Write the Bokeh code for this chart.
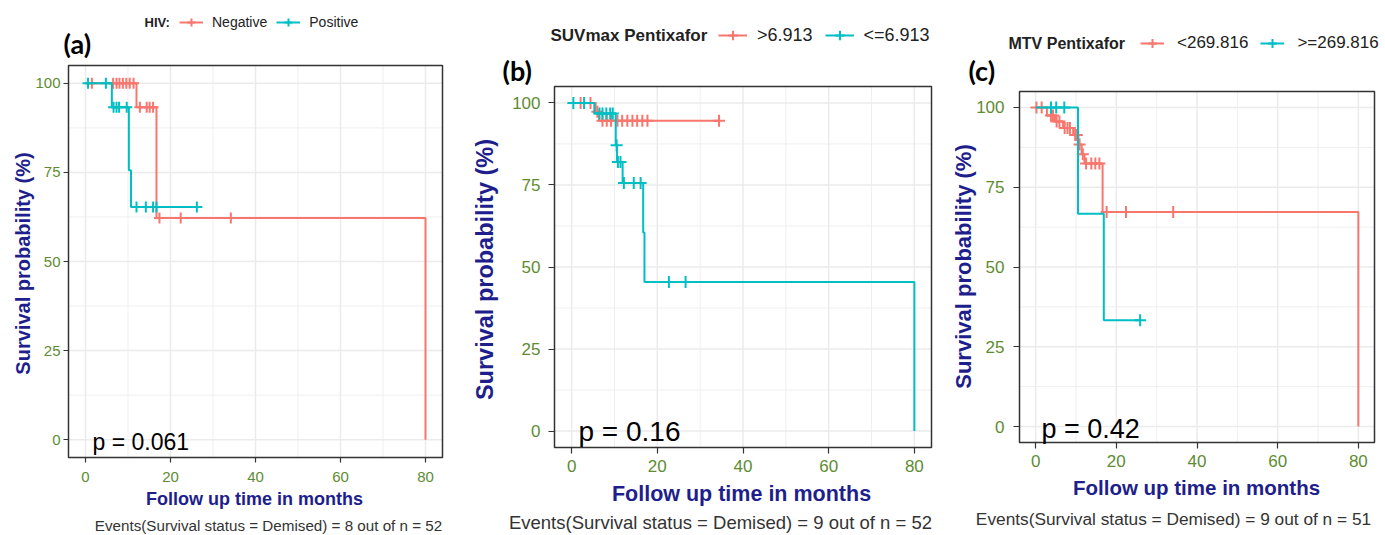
import math
from bokeh.plotting import figure
from bokeh.models import Label, Legend, LegendItem, FixedTicker, Range1d
from bokeh.layouts import row, column
from bokeh.embed import file_html
from bokeh.resources import INLINE

# ---------------- data (months, survival %) ----------------
# Panel (a) HIV
A_neg_times = [0, 12.0, 16.7, 80.0]
A_neg_surv = [100, 93.3, 62.2, 0]
A_neg_end = 80.0
A_neg_censor = [1.5, 6.5, 7.3, 8.0, 8.8, 9.6, 10.4, 11.3, 12.8, 14.4, 15.1, 15.9, 17.4, 22.4, 34.2]
A_pos_times = [0, 6.2, 10.2, 10.7]
A_pos_surv = [100, 93.3, 75.6, 65.3]
A_pos_end = 26.2
A_pos_censor = [0.6, 4.8, 6.6, 7.3, 7.9, 9.7, 12.0, 14.2, 15.9, 16.7, 26.2]

# Panel (b) SUVmax Pentixafor
B_hi_times = [0, 5.6, 6.4]
B_hi_surv = [100, 97.3, 94.6]
B_hi_end = 34.4
B_hi_censor = [2.1, 4.4, 6.0, 7.2, 8.2, 9.2, 10.7, 11.8, 13.0, 14.2, 15.3, 16.5, 17.7, 34.4]
B_lo_times = [0, 5.3, 10.3, 10.6, 11.9, 16.7, 17.0, 80.0]
B_lo_surv = [100, 96.8, 87.1, 82.0, 75.6, 60.5, 45.4, 0]
B_lo_end = 80.0
B_lo_censor = [0.4, 2.9, 6.5, 7.2, 8.1, 9.0, 9.6, 10.5, 10.8, 11.4, 12.2, 14.5, 16.1, 22.7, 26.6]

# Panel (c) MTV Pentixafor
C_lo_times = [0, 2.8, 4.8, 6.8, 9.3, 10.6, 11.4, 12.1, 16.6, 80.0]
C_lo_surv = [100, 97.5, 95.6, 93.6, 91.4, 88.4, 85.3, 82.4, 67.2, 0]
C_lo_end = 80.0
C_lo_censor = [0.2, 1.5, 3.8, 4.3, 5.2, 5.9, 7.2, 7.9, 8.5, 9.8, 10.2, 10.9, 11.7,
               12.5, 13.8, 14.8, 15.8, 17.6, 22.4, 34.1]
C_hi_times = [0, 10.5, 16.9]
C_hi_surv = [100, 66.7, 33.3]
C_hi_end = 25.9
C_hi_censor = [3.8, 5.1, 7.1, 25.9]

x_ticks = [0, 20, 40, 60, 80]
x_minor = [10, 30, 50, 70]
y_ticks = [0, 25, 50, 75, 100]
y_minor = [12.5, 37.5, 62.5, 87.5]

RED = "#F8766D"
TEAL = "#00BFC4"
NAVY = "#1E1E8C"
TICKCOL = "#5E8C31"
FONT = "Liberation Sans"
XR = (-4, 84)      # panel limits (ggplot 5% expansion of 0..80)
YR = (-5, 105)     # panel limits (ggplot 5% expansion of 0..100)


def surv_at(times, surv, t):
    v = surv[0]
    for tt, ss in zip(times, surv):
        if tt <= t:
            v = ss
    return v


def make_panel(cfg):
    cx0, W, H = cfg["canvas_x"], cfg["W"], cfg["H"]
    fx0, fy0, fx1, fy1 = cfg["frame"]          # panel box in page pixels
    ppx = (fx1 - fx0) / (XR[1] - XR[0])
    ppy = (fy1 - fy0) / (YR[1] - YR[0])
    xs0 = XR[0] - (fx0 - cx0) / ppx
    xs1 = XR[1] + (cx0 + W - fx1) / ppx
    ys0 = YR[0] - (H - fy1) / ppy
    ys1 = YR[1] + fy0 / ppy
    p = figure(width=W, height=H, x_range=Range1d(xs0, xs1), y_range=Range1d(ys0, ys1),
               output_backend="svg", toolbar_location=None, title_location=None,
               min_border=0)
    p.background_fill_color = "white"
    p.border_fill_color = "white"
    p.outline_line_color = None

    def tx(px):
        return xs0 + (px - cx0) / ppx

    def ty(py):
        return ys0 + (H - py) / ppy

    # axes pinned to the panel edges
    p.xaxis.fixed_location = YR[0]
    p.yaxis.fixed_location = XR[0]
    p.xaxis.ticker = FixedTicker(ticks=x_ticks, minor_ticks=x_minor)
    p.yaxis.ticker = FixedTicker(ticks=y_ticks, minor_ticks=y_minor)
    for ax in (p.xaxis, p.yaxis):
        ax.axis_line_color = None
        ax.major_tick_line_color = "#333333"
        ax.major_tick_line_width = 1.2
        ax.major_tick_in = 0
        ax.major_tick_out = cfg["tick"]
        ax.minor_tick_line_color = None
        ax.major_label_text_color = TICKCOL
        ax.major_label_text_font = FONT
        ax.major_label_text_font_size = cfg["tickfs"]
    p.xaxis.major_label_standoff = cfg["xstand"]
    p.yaxis.major_label_standoff = cfg["ystand"]

    # grid lines limited to the panel box
    p.xgrid.visible = False
    p.ygrid.visible = False
    p.segment(x0=x_minor, y0=[YR[0]] * len(x_minor), x1=x_minor, y1=[YR[1]] * len(x_minor),
              line_color="#EFEFEF", line_width=1.0, level="underlay")
    p.segment(x0=[XR[0]] * len(y_minor), y0=y_minor, x1=[XR[1]] * len(y_minor), y1=y_minor,
              line_color="#EFEFEF", line_width=1.0, level="underlay")
    p.segment(x0=x_ticks, y0=[YR[0]] * len(x_ticks), x1=x_ticks, y1=[YR[1]] * len(x_ticks),
              line_color="#EBEBEB", line_width=1.5, level="underlay")
    p.segment(x0=[XR[0]] * len(y_ticks), y0=y_ticks, x1=[XR[1]] * len(y_ticks), y1=y_ticks,
              line_color="#EBEBEB", line_width=1.5, level="underlay")

    items = []
    for (times, surv, end, cens, col, lab) in cfg["curves"]:
        xs = list(times) + ([end] if end > times[-1] else [])
        ys = list(surv) + ([surv[-1]] if end > times[-1] else [])
        lr = p.step(xs, ys, mode="after", line_color=col, line_width=2)
        cy = [surv_at(times, surv, t) for t in cens]
        sr = p.scatter(cens, cy, marker="cross", size=cfg["msize"], line_color=col, line_width=2)
        items.append(LegendItem(label=lab, renderers=[lr, sr]))

    # panel border
    p.quad(left=[XR[0]], right=[XR[1]], bottom=[YR[0]], top=[YR[1]],
           fill_color=None, line_color="#333333", line_width=1.5)

    lg = cfg["legend"]
    legend = Legend(items=items, orientation="horizontal",
                    location=(lg["left"] - cx0, H - (lg["cy"] + lg["h"] / 2)),
                    margin=0, padding=0, spacing=lg["spacing"],
                    glyph_width=lg["gw"], glyph_height=lg["h"], label_height=lg["h"],
                    label_standoff=lg["standoff"],
                    label_text_font=FONT, label_text_font_size=lg["fs"],
                    label_text_color="#222222",
                    border_line_color=None, background_fill_alpha=0)
    p.add_layout(legend)

    def lab(text, px, py, fs, color="#000000", bold=False, font=FONT, align="left", angle=0.0):
        p.add_layout(Label(x=tx(px), y=ty(py), text=text, text_font=font,
                           text_font_size=fs, text_color=color,
                           text_font_style="bold" if bold else "normal",
                           text_align=align, text_baseline="middle", angle=angle))

    lab(lg["title"], lg["title_x"], lg["cy"], lg["title_fs"], "#222222", bold=True)
    tg = cfg["tag"]
    lab(tg["text"], tg["x"], tg["cy"], tg["fs"], bold=True, font="Lato")
    pv = cfg["p"]
    lab(pv["text"], pv["x"], pv["cy"], pv["fs"])
    xt = cfg["xt"]
    lab("Follow up time in months", xt[0], xt[1], xt[2], NAVY, bold=True, align="center")
    yt = cfg["yt"]
    lab("Survival probability (%)", yt[0], yt[1], yt[2], NAVY, bold=True, align="center",
        angle=math.pi / 2)
    cp = cfg["cap"]
    lab(cp["text"], cp["x"], cp["cy"], cp["fs"], "#333333", align="center")
    return p


H = 535
cfgA = dict(canvas_x=0, W=460, H=H, frame=(68, 65, 442, 457), tick=5, tickfs="15px",
            xstand=9, ystand=3, msize=11,
            curves=[(A_neg_times, A_neg_surv, A_neg_end, A_neg_censor, RED, "Negative"),
                    (A_pos_times, A_pos_surv, A_pos_end, A_pos_censor, TEAL, "Positive")],
            legend=dict(left=179, cy=22, h=20, gw=24, spacing=9, standoff=9, fs="14px",
                        title="HIV:", title_x=144, title_fs="13px"),
            tag=dict(text="(a)", x=63, cy=43, fs="27px"),
            p=dict(text="p = 0.061", x=92, cy=441, fs="23px"),
            xt=(254, 498, "18px"), yt=(22, 263, "20px"),
            cap=dict(text="Events(Survival status = Demised) = 8 out of n = 52", x=268, cy=525, fs="15.2px"))
cfgB = dict(canvas_x=460, W=480, H=H, frame=(554, 86, 931, 447), tick=6, tickfs="17px",
            xstand=6, ystand=8, msize=12,
            curves=[(B_hi_times, B_hi_surv, B_hi_end, B_hi_censor, RED, ">6.913"),
                    (B_lo_times, B_lo_surv, B_lo_end, B_lo_censor, TEAL, "<=6.913")],
            legend=dict(left=718, cy=35, h=24, gw=29, spacing=12, standoff=10, fs="18px",
                        title="SUVmax Pentixafor", title_x=550, title_fs="17px"),
            tag=dict(text="(b)", x=502, cy=70, fs="27px"),
            p=dict(text="p = 0.16", x=578, cy=431, fs="28px"),
            xt=(741, 493, "21.5px"), yt=(484, 269, "23.5px"),
            cap=dict(text="Events(Survival status = Demised) = 9 out of n = 52", x=720, cy=522, fs="18.5px"))
cfgC = dict(canvas_x=940, W=445, H=H, frame=(1019, 91, 1374, 442), tick=6, tickfs="17px",
            xstand=6, ystand=9, msize=12,
            curves=[(C_lo_times, C_lo_surv, C_lo_end, C_lo_censor, RED, "<269.816"),
                    (C_hi_times, C_hi_surv, C_hi_end, C_hi_censor, TEAL, ">=269.816")],
            legend=dict(left=1140, cy=43, h=22, gw=24, spacing=12, standoff=13, fs="17px",
                        title="MTV Pentixafor", title_x=1008, title_fs="16px"),
            tag=dict(text="(c)", x=968, cy=70, fs="27px"),
            p=dict(text="p = 0.42", x=1041, cy=428, fs="27px"),
            xt=(1196, 487, "20.5px"), yt=(963, 266, "22px"),
            cap=dict(text="Events(Survival status = Demised) = 9 out of n = 51", x=1173, cy=518, fs="17.3px"))

pA = make_panel(cfgA)
pB = make_panel(cfgB)
pC = make_panel(cfgC)
layout = row(column(pA), column(pB), column(pC), spacing=0)

open("out.html", "w").write(file_html(layout, INLINE))
